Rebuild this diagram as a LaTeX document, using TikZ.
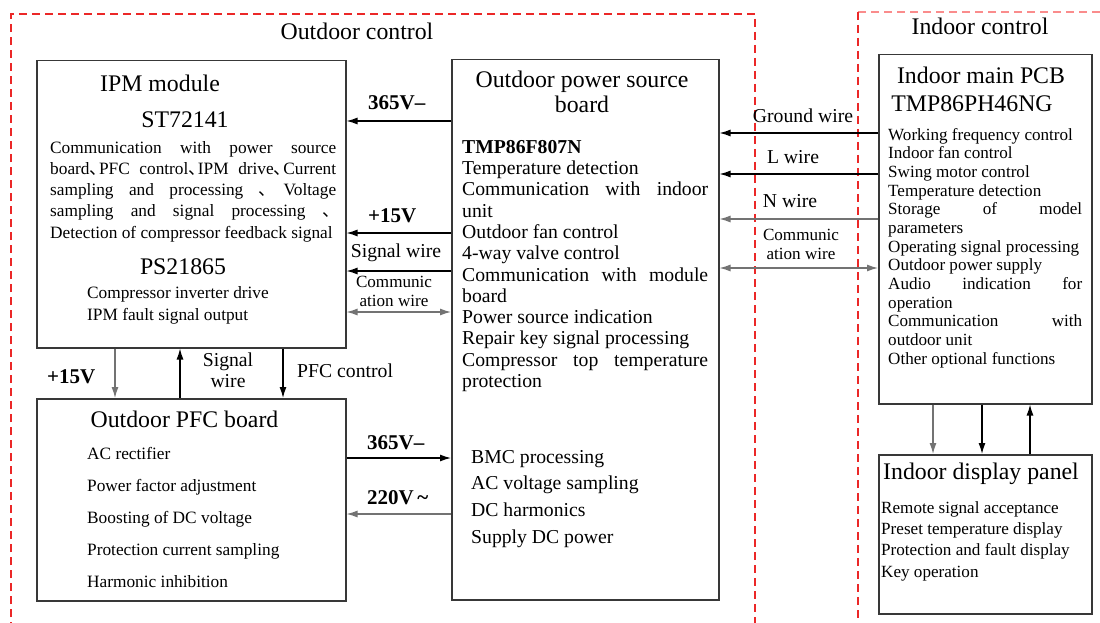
\documentclass[tikz,border=0pt]{standalone}
\usepackage{fontspec}
\setmainfont{Liberation Serif}
\newfontfamily\cjk{Noto Sans CJK SC}
\usetikzlibrary{arrows.meta}
\definecolor{dred}{RGB}{235,40,40}
\definecolor{pred}{RGB}{250,140,140}
\newcommand{\dun}{\makebox[0.55em][l]{\cjk 、}}
\begin{document}
\begin{tikzpicture}[x=1pt,y=-1pt,
  box/.style={draw=black!78,line width=1.5pt,fill=white},
  ttl/.style={font=\fontsize{23.8}{25.5}\selectfont,inner sep=0pt,anchor=base,align=center},
  txt/.style={inner sep=0pt,anchor=north west,align=left},
  lbl/.style={font=\fontsize{19.7}{21}\selectfont,inner sep=0pt,anchor=base,align=center},
  slbl/.style={font=\fontsize{17.1}{19}\selectfont,inner sep=0pt,anchor=north,align=center},
  blbl/.style={font=\fontsize{21}{22}\selectfont\bfseries,inner sep=0pt,anchor=base west},
  conn/.style={line width=1.3pt,black},
  gconn/.style={line width=1.3pt,black!55},
  arr/.style={-{Latex[length=11pt,width=7pt]}},
  darr/.style={{Latex[length=11pt,width=7pt]}-{Latex[length=11pt,width=7pt]}},
  reddash/.style={line width=1.3pt,dash pattern=on 8pt off 5pt}
]
\useasboundingbox[fill=white] (0,0) rectangle (1100,623);

% dashed regions
\draw[reddash,dred] (11,630) -- (11,14) -- (755,14) -- (755,630);
\draw[reddash,pred] (858,12) -- (1105,12);
\draw[reddash,dred] (858,12) -- (858,630);
\node[ttl] (outt) at (357,40) {Outdoor control};
\node[ttl] (indt) at (980,35) {Indoor control};

% boxes
\node[box,minimum width=309,minimum height=287,anchor=north west] (ipm) at (36,60) {};
\node[box,minimum width=267,minimum height=540,anchor=north west] (pwr) at (451,59) {};
\node[box,minimum width=309,minimum height=202,anchor=north west] (pfc) at (36,398) {};
\node[box,minimum width=213,minimum height=349,anchor=north west] (pcb) at (878,54) {};
\node[box,minimum width=213,minimum height=159,anchor=north west] (dsp) at (878,454) {};

% IPM module text
\node[ttl] (ipmt) at (160,92) {IPM module};
\node[ttl] (ipmc) at (185,128) {ST72141};
\node[txt,font=\fontsize{17.3}{21.2}\selectfont] (ipmx) at (50,138.16)
 {\strut\makebox[286pt][s]{Communication with power source}\\
  \makebox[286pt][s]{board\dun PFC control\dun IPM drive\dun Current}\\
  \makebox[286pt][s]{sampling and processing \dun\ Voltage}\\
  \makebox[286pt][s]{sampling and signal processing \dun\hspace{4pt}}\\
  Detection of compressor feedback signal};
\node[ttl] (ipmp) at (183,274) {PS21865};
\node[txt,font=\fontsize{17.3}{22}\selectfont] (ipmy) at (87,282.6)
 {\strut Compressor inverter drive\\IPM fault signal output};

% power board text
\node[ttl,anchor=north] (pwrt) at (582,69.15) {\strut Outdoor power source\\board};
\node[txt,font=\fontsize{19.7}{21.3}\selectfont] (pwrx) at (462,138.09)
 {\strut\textbf{TMP86F807N}\\
  Temperature detection\\
  \makebox[246pt][s]{Communication with indoor}\\
  unit\\
  Outdoor fan control\\
  4-way valve control\\
  \makebox[246pt][s]{Communication with module}\\
  board\\
  Power source indication\\
  Repair key signal processing\\
  \makebox[246pt][s]{Compressor top temperature}\\
  protection};
\node[txt,font=\fontsize{19.7}{26.7}\selectfont] (pwry) at (471,444.31)
 {\strut BMC processing\\AC voltage sampling\\DC harmonics\\Supply DC power};

% PFC board text
\node[ttl] (pfct) at (184.5,427) {Outdoor PFC board};
\node[txt,font=\fontsize{17.3}{32}\selectfont] (pfcx) at (87,436.6)
 {\strut AC rectifier\\Power factor adjustment\\Boosting of DC voltage\\Protection current sampling\\Harmonic inhibition};

% indoor main PCB text
\node[ttl] (pcbt) at (981,84) {Indoor main PCB};
\node[ttl] (pcbc) at (972,112) {TMP86PH46NG};
\node[txt,font=\fontsize{17.1}{18.67}\selectfont] (pcbx) at (888,126.93)
 {\strut Working frequency control\\
  Indoor fan control\\
  Swing motor control\\
  Temperature detection\\
  \makebox[194pt][s]{Storage of model}\\
  parameters\\
  Operating signal processing\\
  Outdoor power supply\\
  \makebox[194pt][s]{Audio indication for}\\
  operation\\
  \makebox[194pt][s]{Communication with}\\
  outdoor unit\\
  Other optional functions};

% display panel text
\node[ttl] (dspt) at (981,479) {Indoor display panel};
\node[txt,font=\fontsize{17.1}{21.3}\selectfont] (dspx) at (881,498.09)
 {\strut Remote signal acceptance\\Preset temperature display\\Protection and fault display\\Key operation};

% connectors IPM <-> power board
\draw[conn,arr] (pwr.west |- 0,121) -- (ipm.east |- 0,121);
\draw[conn,arr] (pwr.west |- 0,233) -- (ipm.east |- 0,233);
\draw[conn,arr] (pwr.west |- 0,271) -- (ipm.east |- 0,271);
\draw[gconn,darr] (pwr.west |- 0,312) -- (ipm.east |- 0,312);
\node[blbl] (l365a) at (368,110) {365V--};
\node[blbl] (l15a) at (368,222) {+15V};
\node[lbl] (lsig) at (396,257) {Signal wire};
\node[slbl] (lcom) at (394,273.7) {\strut Communic\\ation wire};

% connectors IPM <-> PFC board
\draw[gconn,arr] (ipm.south -| 115,0) -- (pfc.north -| 115,0);
\draw[conn,arr] (pfc.north -| 180,0) -- (ipm.south -| 180,0);
\draw[conn,arr] (ipm.south -| 283,0) -- (pfc.north -| 283,0);
\node[blbl] (l15b) at (47,383) {+15V};
\node[lbl,anchor=north] (lsig2) at (228,351.3) {\strut Signal\\wire};
\node[lbl,anchor=base west] (lpfc) at (297,377) {PFC control};

% connectors PFC <-> power board
\draw[conn,arr] (pfc.east |- 0,458) -- (pwr.west |- 0,458);
\draw[gconn,arr] (pwr.west |- 0,514) -- (pfc.east |- 0,514);
\node[blbl] (l365b) at (367,449) {365V--};
\node[blbl] (l220) at (367,504) {220V\,\textasciitilde};

% connectors power board <-> indoor PCB
\draw[conn,arr] (pcb.west |- 0,133) -- (pwr.east |- 0,133);
\draw[conn,arr] (pcb.west |- 0,174) -- (pwr.east |- 0,174);
\draw[gconn,arr] (pcb.west |- 0,219) -- (pwr.east |- 0,219);
\draw[gconn,darr] (pcb.west |- 0,268) -- (pwr.east |- 0,268);
\node[lbl] (lgnd) at (803,123) {Ground wire};
\node[lbl] (llw) at (793,163) {L wire};
\node[lbl] (lnw) at (790,207) {N wire};
\node[slbl] (lcom2) at (801,226.7) {\strut Communic\\ation wire};

% connectors indoor PCB <-> display
\draw[gconn,arr] (pcb.south -| 933,0) -- (dsp.north -| 933,0);
\draw[conn,arr] (pcb.south -| 982,0) -- (dsp.north -| 982,0);
\draw[conn,arr] (dsp.north -| 1030,0) -- (pcb.south -| 1030,0);
\end{tikzpicture}
\end{document}
